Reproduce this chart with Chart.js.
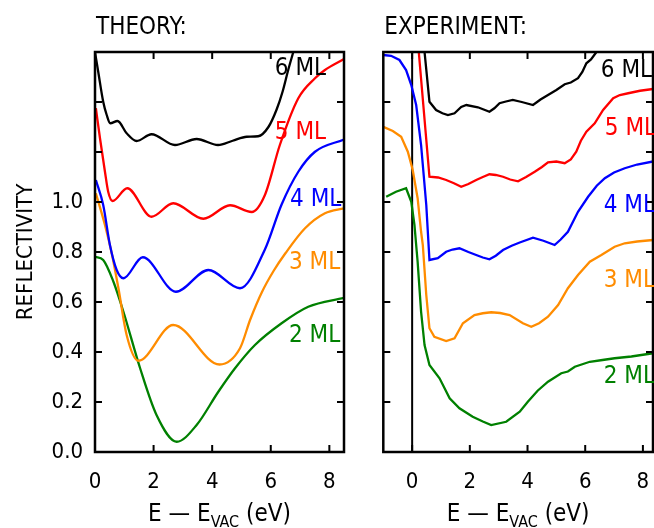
<!DOCTYPE html>
<html><head><meta charset="utf-8">
<script src="https://cdn.jsdelivr.net/npm/chart.js@4.4.1/dist/chart.umd.min.js"></script>
<style>
html,body{margin:0;padding:0;background:#fff;width:654px;height:528px;overflow:hidden}
#w1{position:absolute;left:0;top:0;width:360px;height:528px}
#w2{position:absolute;left:360px;top:0;width:294px;height:528px}
</style></head><body>
<div id="w1"><canvas id="c1"></canvas></div>
<div id="w2"><canvas id="c2"></canvas></div>
<script>
const FONT = '"Liberation Sans Narrow","DejaVu Sans Condensed","Liberation Sans",sans-serif';

// ---- axis ticks ----
const xTickValues = [0, 2, 4, 6, 8];
const yTickValues = [0, 0.2, 0.4, 0.6, 0.8, 1.0, 1.2, 1.4, 1.6];
const seriesNames = ['6 ML', '5 ML', '4 ML', '3 ML', '2 ML'];

// ---- THEORY ----
const t6x = [0, 0.11, 0.28, 0.4, 0.52, 0.77, 1.08, 1.42, 1.93, 2.73, 3.47, 4.2, 4.7, 5.18, 5.57, 5.92, 6.2, 6.4, 6.6, 6.77];
const t6y = [1.6, 1.521, 1.401, 1.348, 1.315, 1.324, 1.275, 1.244, 1.271, 1.228, 1.252, 1.228, 1.245, 1.261, 1.263, 1.3, 1.37, 1.44, 1.53, 1.6];
const t5x = [0.03, 0.17, 0.34, 0.45, 0.6, 1.1, 1.93, 2.67, 3.7, 4.61, 5.35, 5.8, 6.31, 6.94, 7.51, 7.85, 8.5];
const t5y = [1.375, 1.255, 1.121, 1.041, 1.004, 1.055, 0.941, 0.995, 0.933, 0.987, 0.96, 1.028, 1.228, 1.415, 1.495, 1.528, 1.572];
const t4x = [0.03, 0.28, 0.51, 0.74, 0.97, 1.63, 2.76, 3.87, 4.95, 5.8, 6.37, 6.94, 7.51, 8.5];
const t4y = [1.088, 0.988, 0.828, 0.728, 0.695, 0.779, 0.641, 0.728, 0.655, 0.81, 0.99, 1.121, 1.201, 1.25];
const t3x = [0.03, 0.34, 0.57, 0.8, 1.08, 1.48, 2.67, 4.25, 4.95, 5.3, 5.7, 6.1, 6.5, 7.17, 7.85, 8.5];
const t3y = [1.035, 0.908, 0.795, 0.655, 0.468, 0.365, 0.508, 0.35, 0.415, 0.53, 0.64, 0.725, 0.795, 0.895, 0.955, 0.975];
const t2x = [0, 0.28, 0.63, 0.97, 1.54, 2.1, 2.79, 3.47, 4.21, 4.78, 5.46, 6.37, 7.28, 8.5];
const t2y = [0.781, 0.768, 0.681, 0.561, 0.335, 0.148, 0.041, 0.108, 0.241, 0.335, 0.428, 0.515, 0.581, 0.617];

// ---- EXPERIMENT ----
const e6x = [0.43, 0.6, 0.83, 1.05, 1.24, 1.47, 1.7, 1.88, 2.28, 2.68, 2.85, 3.03, 3.25, 3.49, 3.8, 4.19, 4.45, 4.71, 5.0, 5.29, 5.5, 5.75, 5.9, 6.04, 6.2, 6.39];
const e6y = [1.6, 1.401, 1.368, 1.355, 1.348, 1.355, 1.38, 1.388, 1.379, 1.361, 1.375, 1.395, 1.402, 1.408, 1.4, 1.388, 1.41, 1.428, 1.448, 1.471, 1.478, 1.495, 1.52, 1.555, 1.57, 1.6];
const e5x = [0.23, 0.6, 0.9, 1.18, 1.45, 1.7, 1.95, 2.22, 2.45, 2.68, 2.9, 3.15, 3.4, 3.67, 3.95, 4.25, 4.5, 4.71, 5.0, 5.29, 5.5, 5.69, 5.85, 6.04, 6.33, 6.62, 6.97, 7.2, 7.49, 7.9, 8.35];
const e5y = [1.6, 1.101, 1.098, 1.088, 1.075, 1.061, 1.072, 1.088, 1.1, 1.111, 1.108, 1.101, 1.09, 1.083, 1.1, 1.121, 1.14, 1.159, 1.162, 1.155, 1.17, 1.201, 1.245, 1.281, 1.315, 1.368, 1.415, 1.428, 1.435, 1.445, 1.452];
const e4x = [-1, -0.73, -0.44, -0.21, -0.03, 0.14, 0.31, 0.49, 0.6, 0.89, 1.18, 1.4, 1.64, 1.95, 2.22, 2.45, 2.68, 2.9, 3.15, 3.45, 3.73, 4.19, 4.55, 4.94, 5.15, 5.4, 5.75, 6.1, 6.4, 6.68, 7.0, 7.37, 7.8, 8.35];
const e4y = [1.588, 1.585, 1.568, 1.528, 1.468, 1.388, 1.228, 0.988, 0.768, 0.775, 0.801, 0.81, 0.815, 0.8, 0.788, 0.778, 0.771, 0.785, 0.808, 0.825, 0.838, 0.857, 0.845, 0.828, 0.85, 0.881, 0.961, 1.021, 1.065, 1.095, 1.118, 1.135, 1.15, 1.162];
const e3x = [-1, -0.67, -0.38, -0.15, 0.02, 0.19, 0.31, 0.37, 0.49, 0.6, 0.77, 1.18, 1.47, 1.76, 2.16, 2.45, 2.74, 3.05, 3.38, 3.84, 4.13, 4.4, 4.71, 5.06, 5.4, 5.75, 6.16, 6.56, 7.02, 7.37, 7.8, 8.35];
const e3y = [1.301, 1.284, 1.261, 1.201, 1.128, 1.015, 0.881, 0.828, 0.628, 0.495, 0.461, 0.444, 0.455, 0.515, 0.548, 0.555, 0.559, 0.556, 0.548, 0.515, 0.501, 0.515, 0.541, 0.588, 0.655, 0.708, 0.761, 0.788, 0.821, 0.835, 0.842, 0.848];
const e2x = [-0.9, -0.56, -0.21, -0.03, 0.08, 0.16, 0.19, 0.31, 0.43, 0.6, 0.95, 1.3, 1.64, 2.1, 2.45, 2.74, 3.26, 3.73, 4.01, 4.35, 4.71, 5.17, 5.4, 5.64, 6.16, 6.6, 7.02, 7.6, 8.35];
const e2y = [1.021, 1.041, 1.055, 1.001, 0.908, 0.801, 0.761, 0.561, 0.428, 0.348, 0.295, 0.215, 0.175, 0.141, 0.122, 0.108, 0.121, 0.161, 0.201, 0.245, 0.281, 0.315, 0.322, 0.341, 0.361, 0.368, 0.375, 0.382, 0.395];

const COLORS = ['#000000', '#ff0000', '#0000ff', '#ff8c00', '#008000'];

function ds(xs, ys, i, smooth) {
  return {
    data: xs.map((x, k) => ({x: x, y: ys[k]})),
    borderColor: COLORS[i], borderWidth: 2.3, pointRadius: 0, fill: false,
    cubicInterpolationMode: smooth ? 'monotone' : 'default', tension: 0
  };
}

const framePlugin = {
  id: 'frame',
  beforeDatasetsDraw(chart, args, o) {
    const ctx = chart.ctx, a = chart.chartArea, xs = chart.scales.x;
    if (o.zeroLine) {
      ctx.save();
      ctx.strokeStyle = '#000'; ctx.lineWidth = 2;
      const px = xs.getPixelForValue(0);
      ctx.beginPath(); ctx.moveTo(px, a.top); ctx.lineTo(px, a.bottom); ctx.stroke();
      ctx.restore();
    }
  },
  afterDraw(chart, args, o) {
    const ctx = chart.ctx, a = chart.chartArea, xs = chart.scales.x, ys = chart.scales.y;
    ctx.save();
    ctx.strokeStyle = '#000'; ctx.lineWidth = 2.5;
    ctx.strokeRect(a.left, a.top, a.right - a.left, a.bottom - a.top);
    ctx.lineWidth = 2;
    const L = 7;
    ctx.beginPath();
    xTickValues.forEach(v => {
      const px = xs.getPixelForValue(v);
      if (px <= a.left + 1 || px >= a.right - 1) return;
      ctx.moveTo(px, a.bottom); ctx.lineTo(px, a.bottom - L);
      ctx.moveTo(px, a.top); ctx.lineTo(px, a.top + L);
    });
    yTickValues.forEach(v => {
      const py = ys.getPixelForValue(v);
      if (py <= a.top + 1 || py >= a.bottom - 1) return;
      ctx.moveTo(a.left, py); ctx.lineTo(a.left + L, py);
      ctx.moveTo(a.right, py); ctx.lineTo(a.right - L, py);
    });
    ctx.stroke();
    // series labels
    ctx.font = '24px ' + FONT;
    ctx.textBaseline = 'middle'; ctx.textAlign = 'left';
    o.labels.forEach((lb, i) => {
      ctx.fillStyle = COLORS[i];
      ctx.fillText(seriesNames[i], xs.getPixelForValue(lb[0]), ys.getPixelForValue(lb[1]));
    });
    // panel title
    ctx.fillStyle = '#000';
    ctx.font = '24px ' + FONT;
    ctx.textBaseline = 'alphabetic';
    ctx.fillText(o.title, a.left + 1, 34);
    // x title
    const cx = (a.left + a.right) / 2, by = 521;
    const f1 = '24px ' + FONT, f2 = '16px ' + FONT;
    const p1 = 'E \u2014 E', p2 = 'VAC', p3 = ' (eV)';
    ctx.font = f1; const w1 = ctx.measureText(p1).width, w3 = ctx.measureText(p3).width;
    ctx.font = f2; const w2 = ctx.measureText(p2).width;
    let x0 = cx - (w1 + w2 + w3) / 2;
    ctx.font = f1; ctx.fillText(p1, x0, by);
    ctx.font = f2; ctx.fillText(p2, x0 + w1, by + 6);
    ctx.font = f1; ctx.fillText(p3, x0 + w1 + w2, by);
    if (o.yTitle) {
      ctx.save();
      ctx.translate(32, 252); ctx.rotate(-Math.PI / 2);
      ctx.textAlign = 'center'; ctx.font = '22px ' + FONT;
      ctx.fillText(o.yTitle, 0, 0);
      ctx.restore();
    }
    ctx.restore();
  }
};

function makeChart(id, datasets, xmin, xmax, yw, rightPad, showY, frameOpts) {
  return new Chart(document.getElementById(id), {
    type: 'line',
    data: {datasets: datasets},
    options: {
      responsive: true, maintainAspectRatio: false, animation: false, events: [],
      layout: {padding: {top: 52, right: rightPad, left: 0, bottom: 0}},
      plugins: {legend: {display: false}, tooltip: {enabled: false}, frame: frameOpts},
      scales: {
        x: {type: 'linear', min: xmin, max: xmax,
          afterBuildTicks: s => { s.ticks = xTickValues.map(v => ({value: v})); },
          afterFit: s => { s.height = 76; s.paddingLeft = 0; s.paddingRight = 0; },
          grid: {display: false, drawTicks: false}, border: {display: false},
          ticks: {font: {family: FONT, size: 22}, color: '#000', padding: 17, maxRotation: 0, autoSkip: false,
            callback: v => String(v)}},
        y: {type: 'linear', min: 0, max: 1.6,
          afterBuildTicks: s => { s.ticks = yTickValues.map(v => ({value: v})); },
          afterFit: s => { s.width = yw; s.paddingTop = 0; s.paddingBottom = 0; },
          grid: {display: false, drawTicks: false}, border: {display: false},
          ticks: {display: showY, font: {family: FONT, size: 22}, color: '#000', padding: 12, autoSkip: false,
            callback: v => (v <= 1.0001 ? v.toFixed(1) : '')}}
      }
    },
    plugins: [framePlugin]
  });
}

makeChart('c1', [ds(t6x, t6y, 0, true), ds(t5x, t5y, 1, true), ds(t4x, t4y, 2, true), ds(t3x, t3y, 3, true), ds(t2x, t2y, 4, true)],
  0, 8.5, 95, 16, true,
  {title: 'THEORY:', yTitle: 'REFLECTIVITY', zeroLine: false,
   labels: [[6.14, 1.532], [6.14, 1.278], [6.66, 1.01], [6.62, 0.756], [6.62, 0.466]]});

makeChart('c2', [ds(e6x, e6y, 0, false), ds(e5x, e5y, 1, false), ds(e4x, e4y, 2, false), ds(e3x, e3y, 3, false), ds(e2x, e2y, 4, false)],
  -1, 8.35, 23.3, 1, false,
  {title: 'EXPERIMENT:', yTitle: null, zeroLine: true,
   labels: [[6.54, 1.524], [6.68, 1.294], [6.64, 0.984], [6.64, 0.684], [6.64, 0.302]]});
</script>
</body></html>
